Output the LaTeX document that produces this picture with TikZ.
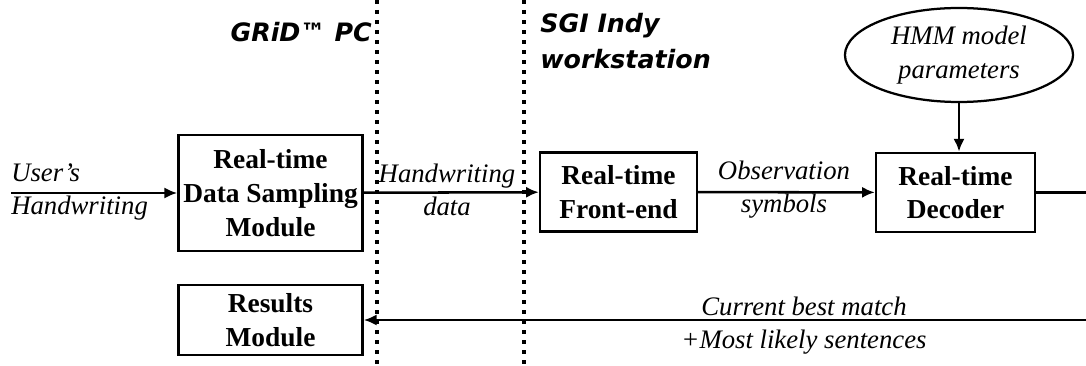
\documentclass[tikz,border=0pt]{standalone}
\usepackage{fontspec}
\setmainfont{Liberation Serif}
\newfontfamily\headfont{DejaVu Sans}
\usetikzlibrary{arrows.meta,shapes.geometric}

\tikzset{
  module/.style={draw, line width=1.8pt, align=center, inner sep=2pt,
    font=\fontsize{19.5}{24}\selectfont\bfseries},
  flowlabel/.style={align=center, inner sep=0pt,
    font=\fontsize{19}{23.5}\selectfont\itshape},
  machine/.style={inner sep=0pt, text=black,
    font=\fontsize{18}{26}\selectfont\headfont\bfseries\itshape},
  divider/.style={line width=2.2pt, dash pattern=on 0.1cm off 0.15cm},
  flow/.style={line width=1.8pt}
}

\begin{document}
\begin{tikzpicture}[x=0.025cm, y=-0.025cm, >={Latex[length=3.2mm,width=2.8mm]}]
  \useasboundingbox (0,0) rectangle (1086,366);
  % the two machines
  \draw[divider] (377,0) -- (377,366);
  \draw[divider] (524,0) -- (524,366);
  \node[machine, anchor=east] (grid) at (372,32) {GRiD\texttrademark\ PC};
  \node[machine, anchor=west, align=left] (sgi) at (540,41) {SGI Indy\\workstation};

  \node[module, minimum width=4.6cm, minimum height=2.9cm] (sample) at (270.5,193) {Real-time\\Data Sampling\\Module};
  \node[module, minimum width=4.6cm, minimum height=1.75cm] (results) at (270.5,320) {Results\\Module};
  \node[module, minimum width=3.92cm, minimum height=1.98cm] (front) at (618.5,192) {Real-time\\Front-end};
  \node[module, minimum width=3.97cm, minimum height=1.98cm] (decoder) at (955.5,192.5) {Real-time\\Decoder};
  \node[ellipse, draw, line width=1.6pt, inner sep=0pt, minimum width=5.7cm, minimum height=2.35cm,
    font=\fontsize{19}{24}\selectfont\itshape, align=center] (hmm) at (959,55) {HMM model\\parameters};

  \coordinate (pen) at (11,193);
  % the return path turns beyond the right edge
  \coordinate (corner) at (1100,192.5);

  \draw[flow, ->] (pen) -- (sample);
  \draw[flow, ->] (sample) -- (front);
  \draw[flow, ->] (front) -- (decoder);
  \draw[flow, ->] (hmm.south) -- (hmm.south |- decoder.north);
  \draw[flow, ->] (decoder) -- (corner) |- (results);

  \node[flowlabel, anchor=west, align=left] (l-pen) at (11,191.5) {User’s\\Handwriting};
  \node[flowlabel] (l-data) at (447,190) {Handwriting\\data};
  \node[flowlabel] (l-obs) at (784,190) {Observation\\symbols};
  \node[flowlabel] (l-match) at (804,326) {Current best match\\+Most likely sentences};
\end{tikzpicture}
\end{document}
